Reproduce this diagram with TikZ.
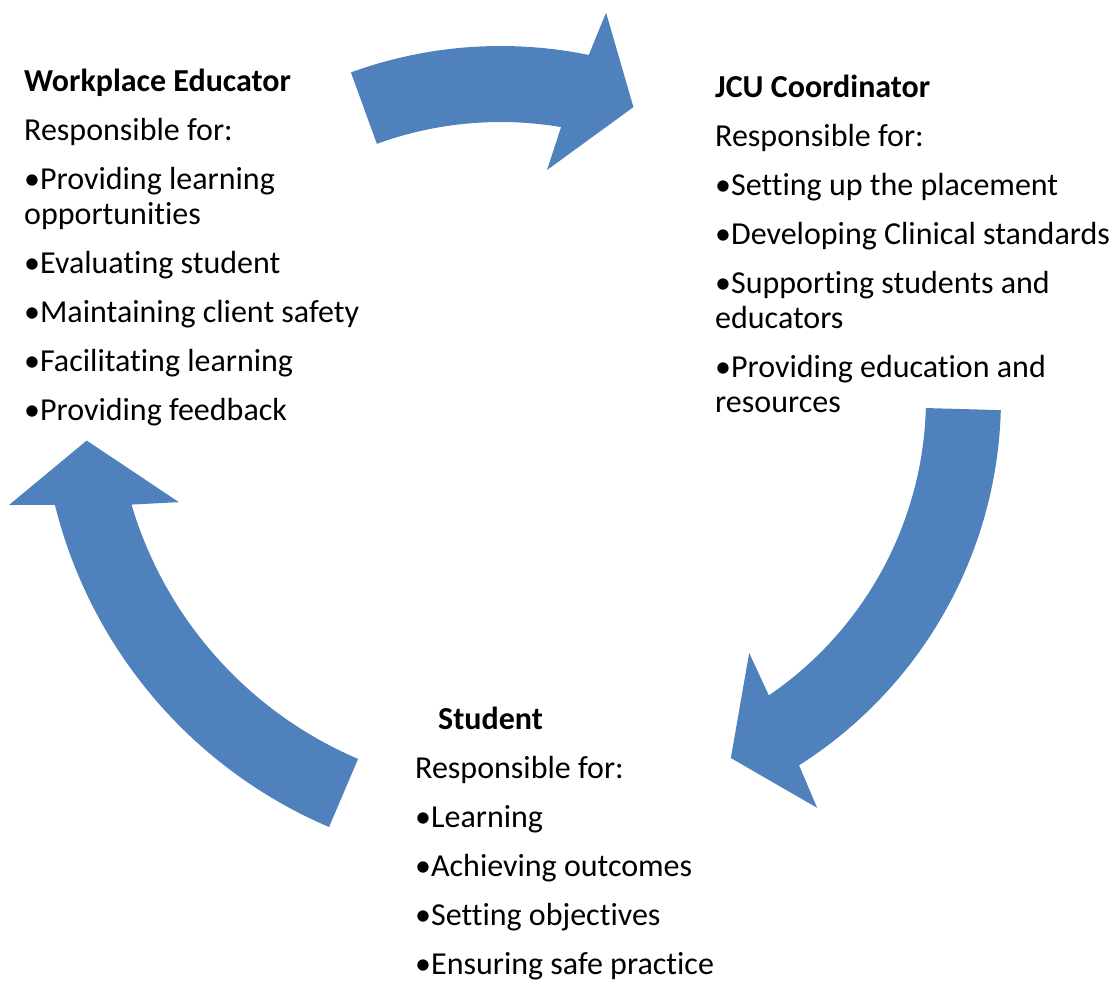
\documentclass[tikz,border=0pt]{standalone}
\usepackage{fontspec}
\setmainfont{Carlito}[Ligatures=NoCommon]
\usetikzlibrary{calc}
\definecolor{cycleblue}{RGB}{79,129,189}
\begin{document}
\begin{tikzpicture}[x=1pt,y=-1pt,
  cyclearrow/.style={fill=cycleblue, draw=none},
  rolebox/.style={anchor=north west, inner sep=0pt, align=left,
    font=\fontsize{32}{35}\selectfont},
]
\useasboundingbox (0,0) rectangle (1113,981);

% curved arrow from the educator to the coordinator
\coordinate (ctop) at (500.7,484);
\fill[cyclearrow] ($(ctop)+(-110:438)$) arc[start angle=-110, end angle=-78.4, radius=438]
  -- ($(ctop)+(-77.4:483)$) -- ($(ctop)+(-70.6:399.6)$) -- ($(ctop)+(-81.6:317.4)$)
  -- ($(ctop)+(-80.4:362)$) arc[start angle=-80.4, end angle=-110, radius=362] -- cycle;

% curved arrow from the coordinator to the student
\coordinate (cright) at (566,398);
\fill[cyclearrow] ($(cright)+(1.6:435)$) arc[start angle=1.6, end angle=57.6, radius=435]
  -- ($(cright)+(58.5:480.7)$) -- ($(cright)+(65.4:396)$) -- ($(cright)+(54.3:313.9)$)
  -- ($(cright)+(55.7:360)$) arc[start angle=55.7, end angle=1.6, radius=360] -- cycle;

% curved arrow from the student to the educator
\coordinate (cleft) at (515,391);
\fill[cyclearrow] ($(cleft)+(113.1:474)$) arc[start angle=113.1, end angle=166.1, radius=474]
  -- ($(cleft)+(167.3:518.7)$) -- ($(cleft)+(173.4:431.2)$) -- ($(cleft)+(161.7:354)$)
  -- ($(cleft)+(163.5:400)$) arc[start angle=163.5, end angle=113.1, radius=400] -- cycle;

% role descriptions (the strut fixes the first baseline 27pt below the top)
\node[rolebox] (educator) at (24,64.5) {\rule{0pt}{27pt}\textbf{Workplace Educator}\\[14pt]
  Responsible for:\\[14pt]
  •Providing learning\\
  opportunities\\[14pt]
  •Evaluating student\\[14pt]
  •Maintaining client safety\\[14pt]
  •Facilitating learning\\[14pt]
  •Providing feedback};

\node[rolebox] (coordinator) at (715,70.5) {\rule{0pt}{27pt}\textbf{JCU Coordinator}\\[14pt]
  Responsible for:\\[14pt]
  •Setting up the placement\\[14pt]
  •Developing Clinical standards\\[14pt]
  •Supporting students and\\
  educators\\[14pt]
  •Providing education and\\
  resources};

\node[rolebox] (student) at (415,702) {\rule{0pt}{27pt}\hspace*{23pt}\textbf{Student}\\[14pt]
  Responsible for:\\[14pt]
  •Learning\\[14pt]
  •Achieving outcomes\\[14pt]
  •Setting objectives\\[14pt]
  •Ensuring safe practice};
\end{tikzpicture}
\end{document}
